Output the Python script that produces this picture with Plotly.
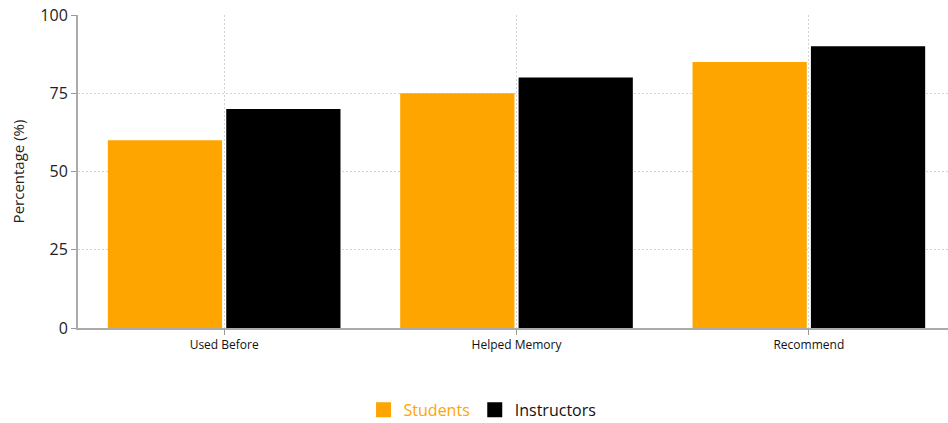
import plotly.graph_objects as go

categories = ["Used Before", "Helped Memory", "Recommend"]
students = [60, 75, 85]
instructors = [70, 80, 90]
y_ticks = [0, 25, 50, 75, 100]
series_names = ["Students", "Instructors"]
series_colors = ["#FFA500", "#000000"]

fig = go.Figure()
for vals, name, color in zip([students, instructors], series_names, series_colors):
    fig.add_trace(go.Bar(x=categories, y=vals, name=name, showlegend=False,
                         marker=dict(color=color, line=dict(width=0))))
# legend entries with larger square swatches
for name, color in zip(series_names, series_colors):
    label = f"<span style='color:{color}'>{name}</span>" if color != "#000000" else name
    fig.add_trace(go.Scatter(x=[None], y=[None], mode="markers", name=label,
                             marker=dict(symbol="square", size=15, color=color)))

fig.update_layout(
    width=948, height=423,
    margin=dict(l=78, r=0, t=15, b=95, autoexpand=False),
    paper_bgcolor="white", plot_bgcolor="white",
    barmode="group", bargap=0.19, bargroupgap=0.035,
    font=dict(family="Open Sans", color="#222"),
    showlegend=True,
    legend=dict(orientation="h", x=0.465, xanchor="center", yref="container", y=0.031, yanchor="middle",
                font=dict(size=16, color="#111"), itemwidth=30, traceorder="normal",
                itemsizing="trace"),
    xaxis=dict(range=[-0.5, 2.476], showgrid=True, gridcolor="#d4d4d4", griddash="2px,2px",
               showline=True, linecolor="#aaaaaa", linewidth=2, ticks="outside", ticklen=5,
               tickcolor="#999", tickfont=dict(size=12, color="#111")),
    yaxis=dict(range=[0, 100], tickvals=y_ticks, showgrid=True, gridcolor="#d4d4d4", griddash="2px,2px",
               showline=True, linecolor="#aaaaaa", linewidth=2, ticks="outside", ticklen=5,
               tickcolor="#999", tickfont=dict(size=16, color="#222"),
               title=dict(text="Percentage (%)", font=dict(size=15, color="#222"), standoff=12),
               zeroline=False),
)
fig.write_html("out.html")
